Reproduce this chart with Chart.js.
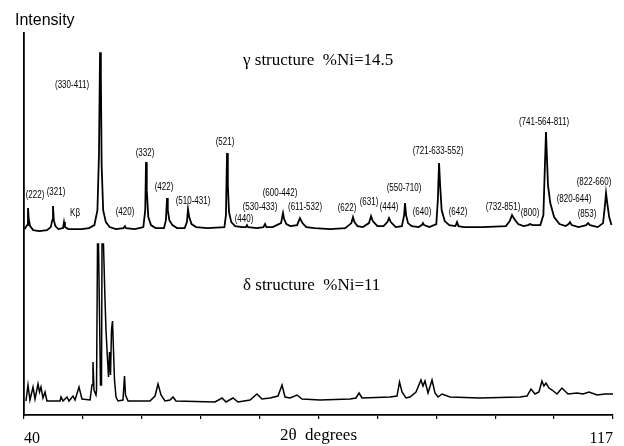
<!DOCTYPE html>
<html>
<head>
<meta charset="utf-8">
<title>XRD patterns</title>
<script src="https://cdn.jsdelivr.net/npm/chart.js@4.4.1/dist/chart.umd.min.js"></script>
<style>
  body { margin: 0; background: #fff; }
  canvas { display: block; }
</style>
</head>
<body>
<canvas id="xrdChart" width="624" height="446"></canvas>
<script>
// 2-theta axis ticks (only the ends are labelled)
const xTicks = [40, 47.7, 55.4, 63.1, 70.8, 78.5, 86.2, 93.9, 101.6, 109.3, 117];

// gamma structure, %Ni = 14.5 (upper trace)
const gammaTheta = [40.1, 40.4, 40.52, 40.62, 40.8, 41.2, 42.0, 43.0, 43.5, 43.7, 43.79, 43.9, 44.1, 44.5, 45.1, 45.23, 45.35, 45.8,
  47.5, 48.5, 49.2, 49.6, 49.8, 49.94, 50.05, 50.15, 50.35, 50.7, 51.2, 52.0, 53.0, 53.2, 53.35, 54.5, 55.6, 55.85, 55.95, 56.05,
  56.25, 56.6, 57.2, 58.3, 58.55, 58.7, 58.8, 59.0, 59.4, 60.0, 61.0, 61.3, 61.44, 61.6, 61.9, 62.5, 64.0, 66.2, 66.4, 66.54,
  66.65, 66.8, 67.1, 67.6, 68.5, 69.0, 69.15, 69.3, 70.5, 71.3, 71.51, 71.7, 72.5, 73.6, 73.86, 74.0, 74.3, 74.8, 75.7, 76.08,
  76.4, 76.9, 78.0, 80.0, 82.0, 82.8, 83.01, 83.2, 83.6, 84.3, 85.1, 85.37, 85.6, 86.2, 87.0, 87.5, 87.72, 87.95, 88.6, 89.4,
  89.7, 89.81, 89.95, 90.2, 90.7, 91.6, 92.0, 92.16, 92.3, 93.0, 93.9, 94.1, 94.26, 94.4, 94.6, 95.0, 95.6, 96.4, 96.61, 96.8,
  97.5, 100.0, 103.0, 103.5, 103.8, 104.1, 104.6, 105.3, 105.9, 106.15, 106.5, 107.5, 107.9, 108.1, 108.24, 108.35, 108.5,
  108.8, 109.3, 110.0, 110.8, 111.2, 111.38, 111.6, 112.5, 113.5, 113.74, 114.0, 115.0, 115.7, 115.95, 116.09, 116.25, 116.5, 116.8];
const gammaInt = [186, 190, 207, 196, 189, 185, 184, 185, 188, 195, 209, 195, 189, 186, 187, 193, 188, 186,
  186, 187, 190, 205, 260, 363, 340, 250, 205, 193, 188, 186, 187, 189, 187, 186, 188, 205, 253, 225,
  198, 190, 187, 187, 195, 217, 205, 195, 190, 187, 187, 193, 206, 198, 191, 188, 187, 188, 200, 262,
  230, 203, 193, 189, 188, 188, 190, 188, 187, 188, 191, 188, 188, 192, 202, 196, 191, 189, 190, 197,
  192, 188, 187, 186, 187, 192, 198, 193, 189, 188, 192, 199, 194, 189, 189, 193, 197, 193, 188, 189,
  200, 212, 200, 192, 189, 188, 190, 192, 190, 188, 191, 215, 252, 230, 205, 194, 190, 189, 193, 189,
  188, 188, 189, 194, 200, 196, 191, 189, 190, 191, 190, 190, 200, 250, 283, 260, 230,
  212, 198, 191, 189, 191, 193, 190, 188, 190, 192, 190, 188, 192, 210, 222, 212, 198, 190];

// delta structure, %Ni = 11 (lower trace)
const deltaTheta = [40.26, 40.52, 40.78, 41.18, 41.44, 41.83, 42.03, 42.22, 42.48, 42.75, 43.0, 44.71, 44.84, 45.1, 45.62, 45.88,
  46.41, 46.67, 47.19, 47.58, 48.63, 48.89, 49.02, 49.15, 49.41, 49.48, 49.61, 49.74, 50.0, 50.13, 50.2, 50.39, 50.59, 50.72,
  50.92, 51.05, 51.18, 51.31, 51.44, 51.57, 51.7, 51.83, 52.03, 52.29, 52.94, 53.14, 53.27, 53.6, 56.47, 57.13, 57.52, 57.91,
  58.43, 59.09, 59.48, 59.87, 64.97, 65.89, 66.41, 67.32, 67.98, 69.55, 70.46, 71.11, 72.16, 73.21, 73.73, 74.12, 74.78, 75.69,
  76.35, 78.7, 82.62, 83.4, 83.8, 84.19, 87.85, 88.76, 89.09, 89.42, 89.94, 90.46, 91.25, 91.9, 92.16, 92.42, 92.82, 93.34,
  93.73, 94.13, 94.65, 95.69, 99.61, 104.84, 105.76, 106.28, 106.8, 107.32, 107.71, 107.97, 108.24, 108.63, 109.03, 109.68,
  110.33, 111.12, 112.29, 113.08, 113.87, 114.91, 115.96, 117.0];
const deltaInt = [14, 30, 15, 28, 16, 31, 23, 28, 17, 23, 14, 14, 18, 14, 18, 14,
  19, 15, 28, 16, 15, 30, 53, 25, 20, 25, 171, 171, 30, 30, 171, 171, 115, 85,
  55, 38, 63, 40, 85, 94, 65, 35, 18, 14, 15, 39, 20, 14, 14, 19, 31, 20,
  14, 15, 18, 14, 13, 17, 13, 17, 13, 15, 21, 16, 17, 19, 30, 18, 17, 20,
  16, 15, 16, 17, 22, 17, 18, 19, 33, 23, 17, 18, 23, 35, 29, 34, 22, 35,
  22, 18, 21, 18, 17, 18, 19, 26, 21, 23, 34, 29, 32, 27, 25, 21,
  27, 21, 22, 21, 23, 20, 21, 21];

// peak indexing labels: text, 2-theta and intensity of the label centre
const peakLabels = ['(222)', '(321)', 'Kβ', '(330-411)', '(420)', '(332)', '(422)', '(510-431)', '(521)', '(440)',
  '(530-433)', '(600-442)', '(611-532)', '(622)', '(631)', '(444)', '(550-710)', '(640)', '(721-633-552)', '(642)',
  '(732-851)', '(800)', '(741-564-811)', '(820-644)', '(853)', '(822-660)'];
const peakLabelTheta = [41.44, 44.18, 46.67, 46.28, 53.2, 55.82, 58.3, 62.09, 66.28, 68.76,
  70.85, 73.47, 76.74, 82.23, 85.1, 87.72, 89.68, 92.03, 94.12, 96.74,
  102.62, 106.15, 107.98, 111.9, 113.6, 114.52];
const peakLabelInt = [220, 223, 202, 330, 203, 262, 228, 214, 273, 196,
  208, 222, 208, 207, 213, 208, 227, 203, 264, 203,
  208, 202, 293, 216, 201, 233];

const toPoints = (xs, ys) => xs.map((x, i) => ({ x: x, y: ys[i] }));

const labelPlugin = {
  id: 'xrdLabels',
  afterDatasetsDraw(chart) {
    const ctx = chart.ctx;
    const xs = chart.scales.x, ys = chart.scales.y;
    ctx.save();
    ctx.fillStyle = '#000';
    ctx.textBaseline = 'middle';
    ctx.textAlign = 'center';
    ctx.font = '10px "Liberation Sans", Arial, sans-serif';
    peakLabels.forEach((t, i) => {
      const px = xs.getPixelForValue(peakLabelTheta[i]);
      const py = ys.getPixelForValue(peakLabelInt[i]);
      ctx.save();
      ctx.translate(px, py);
      ctx.scale(0.8, 1);
      ctx.fillText(t, 0, 0);
      ctx.restore();
    });
    ctx.textAlign = 'left';
    ctx.font = '17px "Liberation Serif", "Times New Roman", serif';
    ctx.fillText('γ structure  %Ni=14.5', xs.getPixelForValue(68.63), ys.getPixelForValue(355));
    ctx.fillText('δ structure  %Ni=11', xs.getPixelForValue(68.63), ys.getPixelForValue(130));
    ctx.restore();
  }
};

new Chart(document.getElementById('xrdChart'), {
  type: 'line',
  data: {
    datasets: [
      {
        label: 'γ structure %Ni=14.5',
        data: toPoints(gammaTheta, gammaInt),
        borderColor: '#000',
        borderWidth: 1.8,
        pointRadius: 0,
        tension: 0
      },
      {
        label: 'δ structure %Ni=11',
        data: toPoints(deltaTheta, deltaInt),
        borderColor: '#000',
        borderWidth: 1.5,
        pointRadius: 0,
        tension: 0
      }
    ]
  },
  options: {
    responsive: false,
    animation: false,
    layout: { padding: { left: 15, right: 11, top: 0, bottom: 0 } },
    plugins: {
      legend: { display: false },
      tooltip: { enabled: false },
      title: {
        display: true,
        text: 'Intensity',
        align: 'start',
        color: '#000',
        font: { family: '"Liberation Sans", Arial, sans-serif', size: 16, weight: 'normal', lineHeight: 1.2 },
        padding: { top: 11, bottom: 3 }
      }
    },
    scales: {
      x: {
        type: 'linear',
        min: 40,
        max: 117,
        afterBuildTicks: scale => { scale.ticks = xTicks.map(v => ({ value: v })); },
        afterFit: scale => { scale.height = 31; },
        grid: { display: true, drawOnChartArea: false, drawTicks: true, tickLength: 4, color: '#000', lineWidth: 1.2 },
        border: { display: true, color: '#000', width: 1.8 },
        ticks: {
          autoSkip: false,
          maxRotation: 0,
          align: 'inner',
          padding: 10,
          color: '#000',
          font: { family: '"Liberation Serif", "Times New Roman", serif', size: 16 },
          callback: v => (v === 40 || v === 117) ? String(v) : ''
        },
        title: {
          display: true,
          text: '2θ  degrees',
          color: '#000',
          font: { family: '"Liberation Serif", "Times New Roman", serif', size: 17 },
          padding: { top: 0, bottom: 0 }
        }
      },
      y: {
        min: 0,
        max: 382,
        afterFit: scale => { scale.width = 9; },
        grid: { display: false },
        border: { display: true, color: '#000', width: 1.8 },
        ticks: { display: false }
      }
    }
  },
  plugins: [labelPlugin]
});
</script>
</body>
</html>
